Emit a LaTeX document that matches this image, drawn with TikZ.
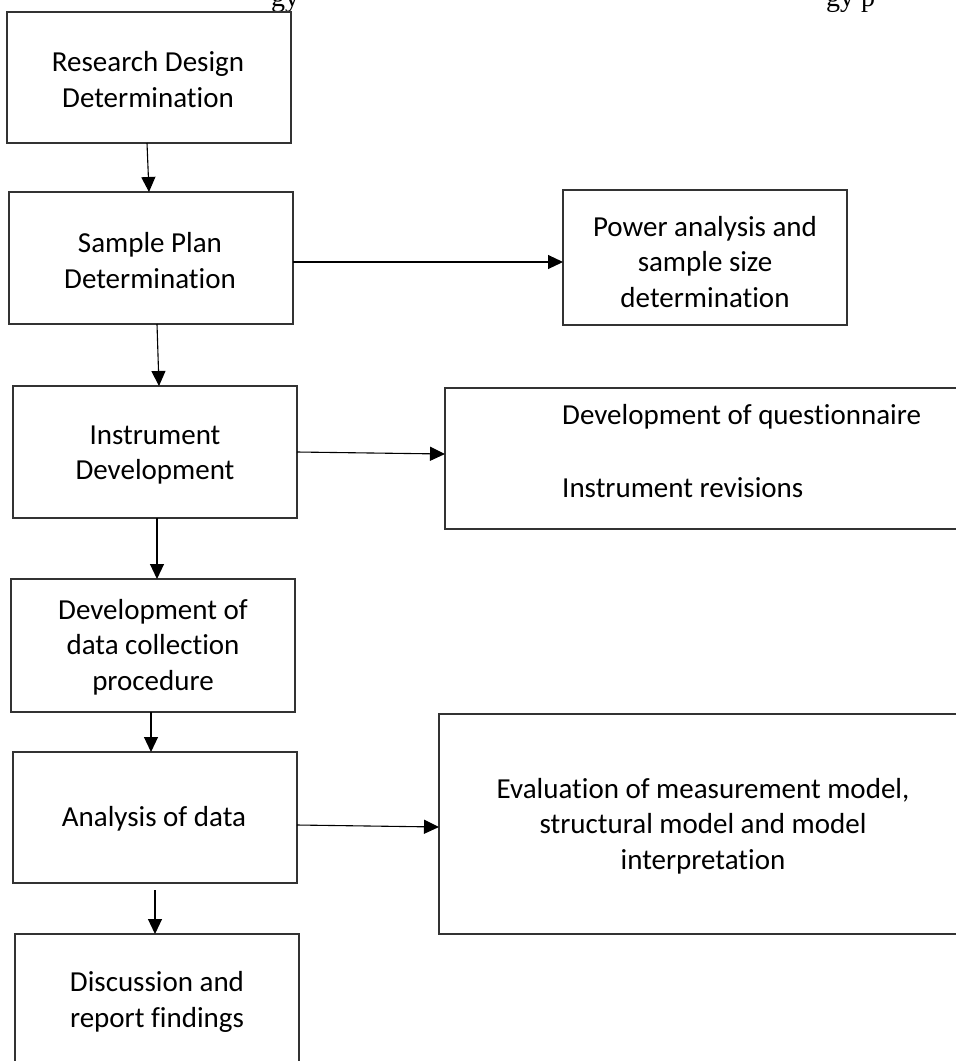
\documentclass[tikz,border=0pt]{standalone}
\usepackage{fontspec}
\setmainfont{Carlito}[Ligatures=NoCommon]
\newfontfamily\timesf{Liberation Serif}
\usetikzlibrary{arrows.meta}
\begin{document}
\begin{tikzpicture}[x=1pt,y=-1pt,
  box/.style={draw=black!80, line width=1.2pt, inner sep=0pt, outer sep=0pt, anchor=north west},
  txt/.style={align=center, font=\fontsize{29}{35.4}\selectfont, inner sep=0pt},
  ltxt/.style={anchor=west, font=\fontsize{29}{35.4}\selectfont, inner sep=0pt},
  frag/.style={anchor=base west, font=\timesf\fontsize{28}{30}\selectfont, inner sep=0pt},
  arr/.style={draw=black, line width=1.1pt, -{Triangle[length=15pt,width=14pt]}}]
\clip (0,0) rectangle (956,1061);
\fill[white] (0,0) rectangle (956,1061);
% clipped fragments of a caption above the figure
\node[frag] (f1) at (271,6) {gy};
\node[frag] (f2) at (826,6) {gy p};
% boxes
\node[box, minimum width=284pt, minimum height=131pt] (b1) at (7,12) {};
\node[box, minimum width=284pt, minimum height=132pt] (b2) at (9,192) {};
\node[box, minimum width=284pt, minimum height=135pt] (b3) at (563,190) {};
\node[box, minimum width=284pt, minimum height=132pt] (b4) at (13,386) {};
\node[box, minimum width=525pt, minimum height=141pt] (b5) at (445,388) {};
\node[box, minimum width=284pt, minimum height=133pt] (b6) at (11,579) {};
\node[box, minimum width=284pt, minimum height=131pt] (b7) at (13,752) {};
\node[box, minimum width=531pt, minimum height=220pt] (b8) at (439,714) {};
\node[box, minimum width=284pt, minimum height=146pt] (b9) at (15,934) {};
% texts
\node[txt] (t1) at (148,79.5) {Research Design\\Determination};
\node[txt] (t2) at (150,260.5) {Sample Plan\\Determination};
\node[txt] (t3) at (705,262) {Power analysis and\\sample size\\determination};
\node[txt] (t4) at (155,455) {Instrument\\Development};
\node[ltxt] (t5a) at (562,417) {Development of questionnaire};
\node[ltxt] (t5b) at (562,488) {Instrument revisions};
\node[txt] (t6) at (153,647) {Development of\\data collection\\procedure};
\node[txt] (t7) at (154,819) {Analysis of data};
\node[txt] (t8) at (703,826) {Evaluation of measurement model,\\structural model and model\\interpretation};
\node[txt] (t9) at (157,1002) {Discussion and\\report findings};
% connectors
\draw[arr] ([xshift=-2pt]b1.south) -- ([xshift=-2pt]b2.north);
\draw[arr] ([yshift=-4pt]b2.east) -- ([yshift=-4.5pt]b3.west);
\draw[arr] ([xshift=6pt]b2.south) -- ([xshift=4pt]b4.north);
\draw[arr] (b4.east) -- ([yshift=4.5pt]b5.west);
\draw[arr] ([xshift=2pt]b4.south) -- ([xshift=4pt]b6.north);
\draw[arr] ([xshift=-2pt]b6.south) -- ([xshift=-4pt]b7.north);
\draw[arr] ([yshift=-7.5pt]b7.east) -- ([yshift=-3pt]b8.west);
\draw[arr] ([yshift=-7pt]b7.south) -- ([xshift=-2pt]b9.north);
\end{tikzpicture}
\end{document}
